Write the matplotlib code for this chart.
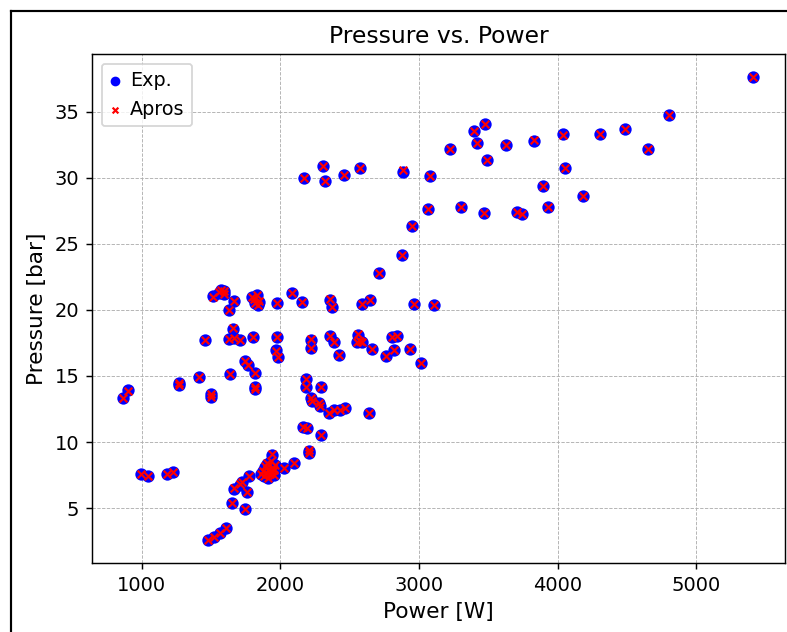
import matplotlib
matplotlib.use("Agg")
import matplotlib.pyplot as plt
from matplotlib.lines import Line2D

# measured power [W] and pressure [bar], Exp. vs Apros
power = [
    870, 902, 998, 1045, 1180, 1228, 1269, 1269, 1413, 1454,
    1502, 1502, 1515, 1560, 1575, 1593, 1598, 1629, 1629, 1636,
    1661, 1670, 1670, 1708, 1749, 1766, 1805, 1816, 1821, 1821,
    1797, 1810, 1821, 1833, 1845, 1838, 1978, 1978, 1971, 1982,
    2086, 2156, 2189, 2189, 2225, 2225, 2218, 2230, 2277, 2284,
    2295, 2349, 2385, 2434, 2470, 2638, 2165, 2194, 2297, 2206,
    2210, 2362, 2374, 2362, 2390, 2421, 2554, 2560, 2575, 2590,
    2590, 2650, 2662, 2715, 2763, 2806, 2842, 2823, 2877, 2938,
    2949, 2967, 3015, 3066, 3082, 3111, 2174, 2306, 2321, 2458,
    2578, 2882, 3221, 3303, 3394, 3419, 3478, 3471, 3491, 3628,
    3707, 3743, 3831, 3893, 3930, 4038, 4050, 4182, 4307, 4482,
    4650, 4799, 5411,
    1478, 1521, 1569, 1612, 1653, 1744, 1665, 1712, 1725, 1757,
    1773, 1860, 1872, 1880, 1888, 1895, 1902, 1908, 1915, 1920,
    1926, 1932, 1938, 1941, 1946, 1952, 1958, 1965, 2025, 2098,
]

exp_pressure = [
    13.3, 13.9, 7.55, 7.45, 7.6, 7.72, 14.5, 14.3, 14.9, 17.7,
    13.6, 13.4, 21.05, 21.3, 21.5, 21.4, 21.2, 20.0, 17.8, 15.15,
    18.55, 20.65, 17.85, 17.75, 16.15, 15.85, 17.95, 15.25, 14.2, 14.0,
    20.95, 20.8, 20.5, 21.1, 20.6, 20.4, 20.55, 17.95, 16.95, 16.45,
    21.25, 20.6, 14.75, 14.2, 17.75, 17.15, 13.3, 13.1, 12.95, 12.7,
    14.2, 12.2, 12.4, 12.4, 12.55, 12.2, 11.15, 11.05, 10.55, 9.35,
    9.15, 20.75, 20.25, 18.0, 17.6, 16.55, 17.55, 18.1, 17.65, 17.6,
    20.45, 20.75, 17.05, 22.75, 16.5, 17.95, 18.05, 16.95, 24.15, 17.05,
    26.35, 20.45, 16.0, 27.65, 30.15, 20.4, 29.95, 30.85, 29.75, 30.2,
    30.7, 30.45, 32.15, 27.75, 33.5, 32.65, 34.05, 27.3, 31.3, 32.45,
    27.4, 27.25, 32.75, 29.35, 27.75, 33.3, 30.75, 28.6, 33.3, 33.65,
    32.15, 34.7, 37.6,
    2.6, 2.8, 3.1, 3.5, 5.4, 4.95, 6.45, 6.75, 6.95, 6.25,
    7.4, 7.55, 7.8, 7.45, 8.1, 7.65, 8.35, 7.3, 7.9, 8.2,
    7.55, 8.6, 7.8, 9.05, 8.05, 7.5, 7.85, 8.25, 8.05, 8.45,
]

apros_pressure = [
    13.3, 13.85, 7.55, 7.45, 7.6, 7.75, 14.5, 14.3, 14.9, 17.7,
    13.65, 13.4, 21.0, 21.35, 21.5, 21.45, 21.2, 20.0, 17.8, 15.15,
    18.6, 20.65, 17.85, 17.7, 16.15, 15.85, 17.95, 15.2, 14.2, 14.0,
    21.0, 20.8, 20.55, 21.1, 20.65, 20.4, 20.55, 17.95, 16.9, 16.45,
    21.25, 20.6, 14.75, 14.2, 17.8, 17.15, 13.3, 13.1, 12.95, 12.7,
    14.2, 12.2, 12.4, 12.4, 12.55, 12.2, 11.15, 11.05, 10.55, 9.4,
    9.15, 20.8, 20.25, 18.0, 17.6, 16.55, 17.55, 18.2, 17.65, 17.6,
    20.45, 20.75, 17.05, 22.8, 16.5, 17.95, 18.05, 16.95, 24.15, 17.05,
    26.35, 20.45, 16.0, 27.65, 30.15, 20.4, 29.95, 30.85, 29.75, 30.2,
    30.75, 30.55, 32.15, 27.75, 33.5, 32.65, 34.05, 27.3, 31.3, 32.45,
    27.4, 27.25, 32.85, 29.35, 27.75, 33.25, 30.75, 28.6, 33.3, 33.7,
    32.15, 34.7, 37.6,
    2.6, 2.8, 3.1, 3.5, 5.4, 4.95, 6.5, 6.8, 6.95, 6.25,
    7.4, 7.6, 7.8, 7.45, 8.2, 7.65, 8.4, 7.3, 7.9, 8.25,
    7.55, 8.6, 7.8, 9.1, 8.05, 7.5, 7.85, 8.3, 8.05, 8.45,
]

fig = plt.figure(figsize=(787 / 130, 632 / 130), dpi=130)
ax = fig.add_axes([92 / 787, 1 - 563 / 632, 693 / 787, 509 / 632])

ax.scatter(power, exp_pressure, c="blue", s=34, label="Exp.", zorder=2)
ax.scatter(power, apros_pressure, c="red", marker="x", s=18, linewidths=1.2,
           label="Apros", zorder=3)

ax.set_title("Pressure vs. Power", fontsize=13)
ax.set_xlabel("Power [W]", fontsize=12)
ax.set_ylabel("Pressure [bar]", fontsize=12)
ax.tick_params(labelsize=10.8)
ax.grid(True, linestyle="--", linewidth=0.5)
ax.set_axisbelow(True)
ax.legend(loc="upper left", fontsize=10.6, handlelength=0.6,
          handletextpad=0.5, markerscale=0.75)

# frame around the figure (right/bottom edges fall outside the image)
fig.add_artist(Line2D([11 / 787, 11 / 787], [-0.01, 1 - 11 / 632],
                      transform=fig.transFigure, color="black", linewidth=1.2))
fig.add_artist(Line2D([11 / 787, 1.01], [1 - 11 / 632, 1 - 11 / 632],
                      transform=fig.transFigure, color="black", linewidth=1.2))

fig.savefig("out.png", dpi=130)
